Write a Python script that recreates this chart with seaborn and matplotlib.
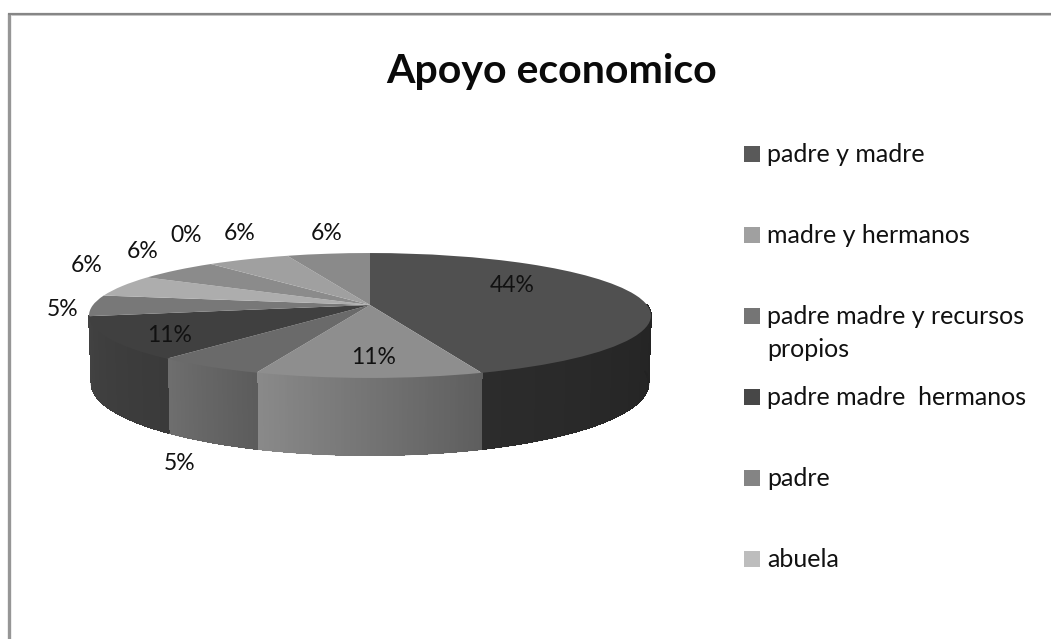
import numpy as np
import matplotlib
matplotlib.use("Agg")
import matplotlib.pyplot as plt
from matplotlib.collections import PolyCollection, LineCollection
from matplotlib.transforms import Transform
import seaborn as sns

slice_values = [44.4, 11.1, 5.4, 11.1, 5.4, 5.6, 5.6, 0, 5.6, 5.6]
slice_colors = ["#505050", "#8e8e8e", "#6a6a6a", "#404040", "#787878",
                "#adadad", "#8b8b8b", "#999999", "#a0a0a0", "#8a8a8a"]
# side wall shading, colour at the right end and at the left end of each visible wall
wall_colors = {0: ("#222222", "#2c2c2c"), 1: ("#5e5e5e", "#8a8a8a"),
               2: ("#5c5c5c", "#6e6e6e"), 3: ("#3a3a3a", "#424242")}

legend_labels = ["padre y madre", "madre y hermanos", "padre madre y recursos\npropios",
                 "padre madre  hermanos", "padre", "abuela"]
legend_colors = ["#595959", "#a0a0a0", "#757575", "#474747", "#848484", "#bdbdbd"]

chart_title = "Apoyo economico"


class TiltedDisc(Transform):
    """Maps the unit circle of the pie to a tilted disc in pixels."""
    input_dims = 2
    output_dims = 2

    def __init__(self, cx, cy, bx, ay, k=0.168, drop=0):
        super().__init__()
        self.cx, self.cy, self.bx, self.ay, self.k, self.drop = cx, cy, bx, ay, k, drop

    def transform_non_affine(self, values):
        x, y = values[:, 0], values[:, 1]
        w = 1 + self.k * y
        return np.column_stack([self.cx + self.bx * x / w,
                                self.cy + self.drop - self.ay * y / w])


sns.set_theme(style="white")
plt.rcParams["font.family"] = ["Lato", "DejaVu Sans"]

fig = plt.figure(figsize=(10.51, 6.39), dpi=100)
ax = fig.add_axes([0, 0, 1, 1])

top_disc = TiltedDisc(370, 305, 277, 60.7)
bottom_disc = TiltedDisc(370, 305, 274.6, 70, drop=66)

wedges, _ = ax.pie(slice_values, colors=slice_colors, startangle=90, counterclock=False,
                   wedgeprops={"linewidth": 0})
for w in wedges:
    w.set_transform(top_disc + ax.transData)
    w.set_zorder(3)

ax.set_aspect("auto")
ax.set_xlim(0, 1051)
ax.set_ylim(639, 0)
ax.axis("off")

# side walls, from the same slice angles; only the front part of the rim shows
angles = np.cumsum([0] + slice_values) / sum(slice_values) * 360
for i, (c_start, c_end) in wall_colors.items():
    t = np.radians(np.arange(max(angles[i], 90), angles[i + 1] + 0.5, 0.5))
    circle = np.column_stack([np.sin(t), np.cos(t)])
    up = top_disc.transform_non_affine(circle)
    down = bottom_disc.transform_non_affine(circle)
    quads = [[up[j], up[j + 1], down[j + 1], down[j]] for j in range(len(t) - 1)]
    ramp = sns.blend_palette([c_start, c_end], len(quads))
    ax.add_collection(PolyCollection(quads, facecolors=ramp, edgecolors=ramp, linewidths=0.6,
                                     antialiaseds=False, zorder=2))
    # smooth the lower rim
    rim = [[down[j], down[j + 1]] for j in range(len(t) - 1)]
    ax.add_collection(LineCollection(rim, colors=ramp, linewidths=1, zorder=2))

# percentage labels
label_xy = [(512, 285), (374, 357), (180, 464), (170, 335), (63, 309),
            (87, 265), (143, 252), (186, 236), (240, 233), (327, 233)]
for v, (x, y) in zip(slice_values, label_xy):
    ax.text(x, y, f"{v:.0f}%", ha="center", va="center", fontsize=16.5, color="#111111", zorder=5)

# legend
for i, (name, col) in enumerate(zip(legend_labels, legend_colors)):
    y = 153.5 + 81 * i
    ax.scatter([751.5], [y], marker="s", s=117, color=col, linewidths=0, zorder=4)
    for k, line in enumerate(name.split("\n")):
        ax.text(767, y + 8.5 + 33 * k, line, ha="left", va="baseline", fontsize=18, color="#111111")

ax.text(552, 71, chart_title, ha="center", va="center", fontsize=29.5, fontweight="bold", color="#0a0a0a")

# chart frame, only top and left show in the crop
ax.plot([9, 9], [639, 13], color="#969696", lw=2.4, solid_capstyle="butt")
ax.plot([7.5, 1051], [13.5, 13.5], color="#868686", lw=1.6, solid_capstyle="butt")
ax.plot([10.5, 1051], [14.8, 14.8], color="#c4c4c4", lw=0.7, solid_capstyle="butt")

fig.savefig("out.png", dpi=100)
